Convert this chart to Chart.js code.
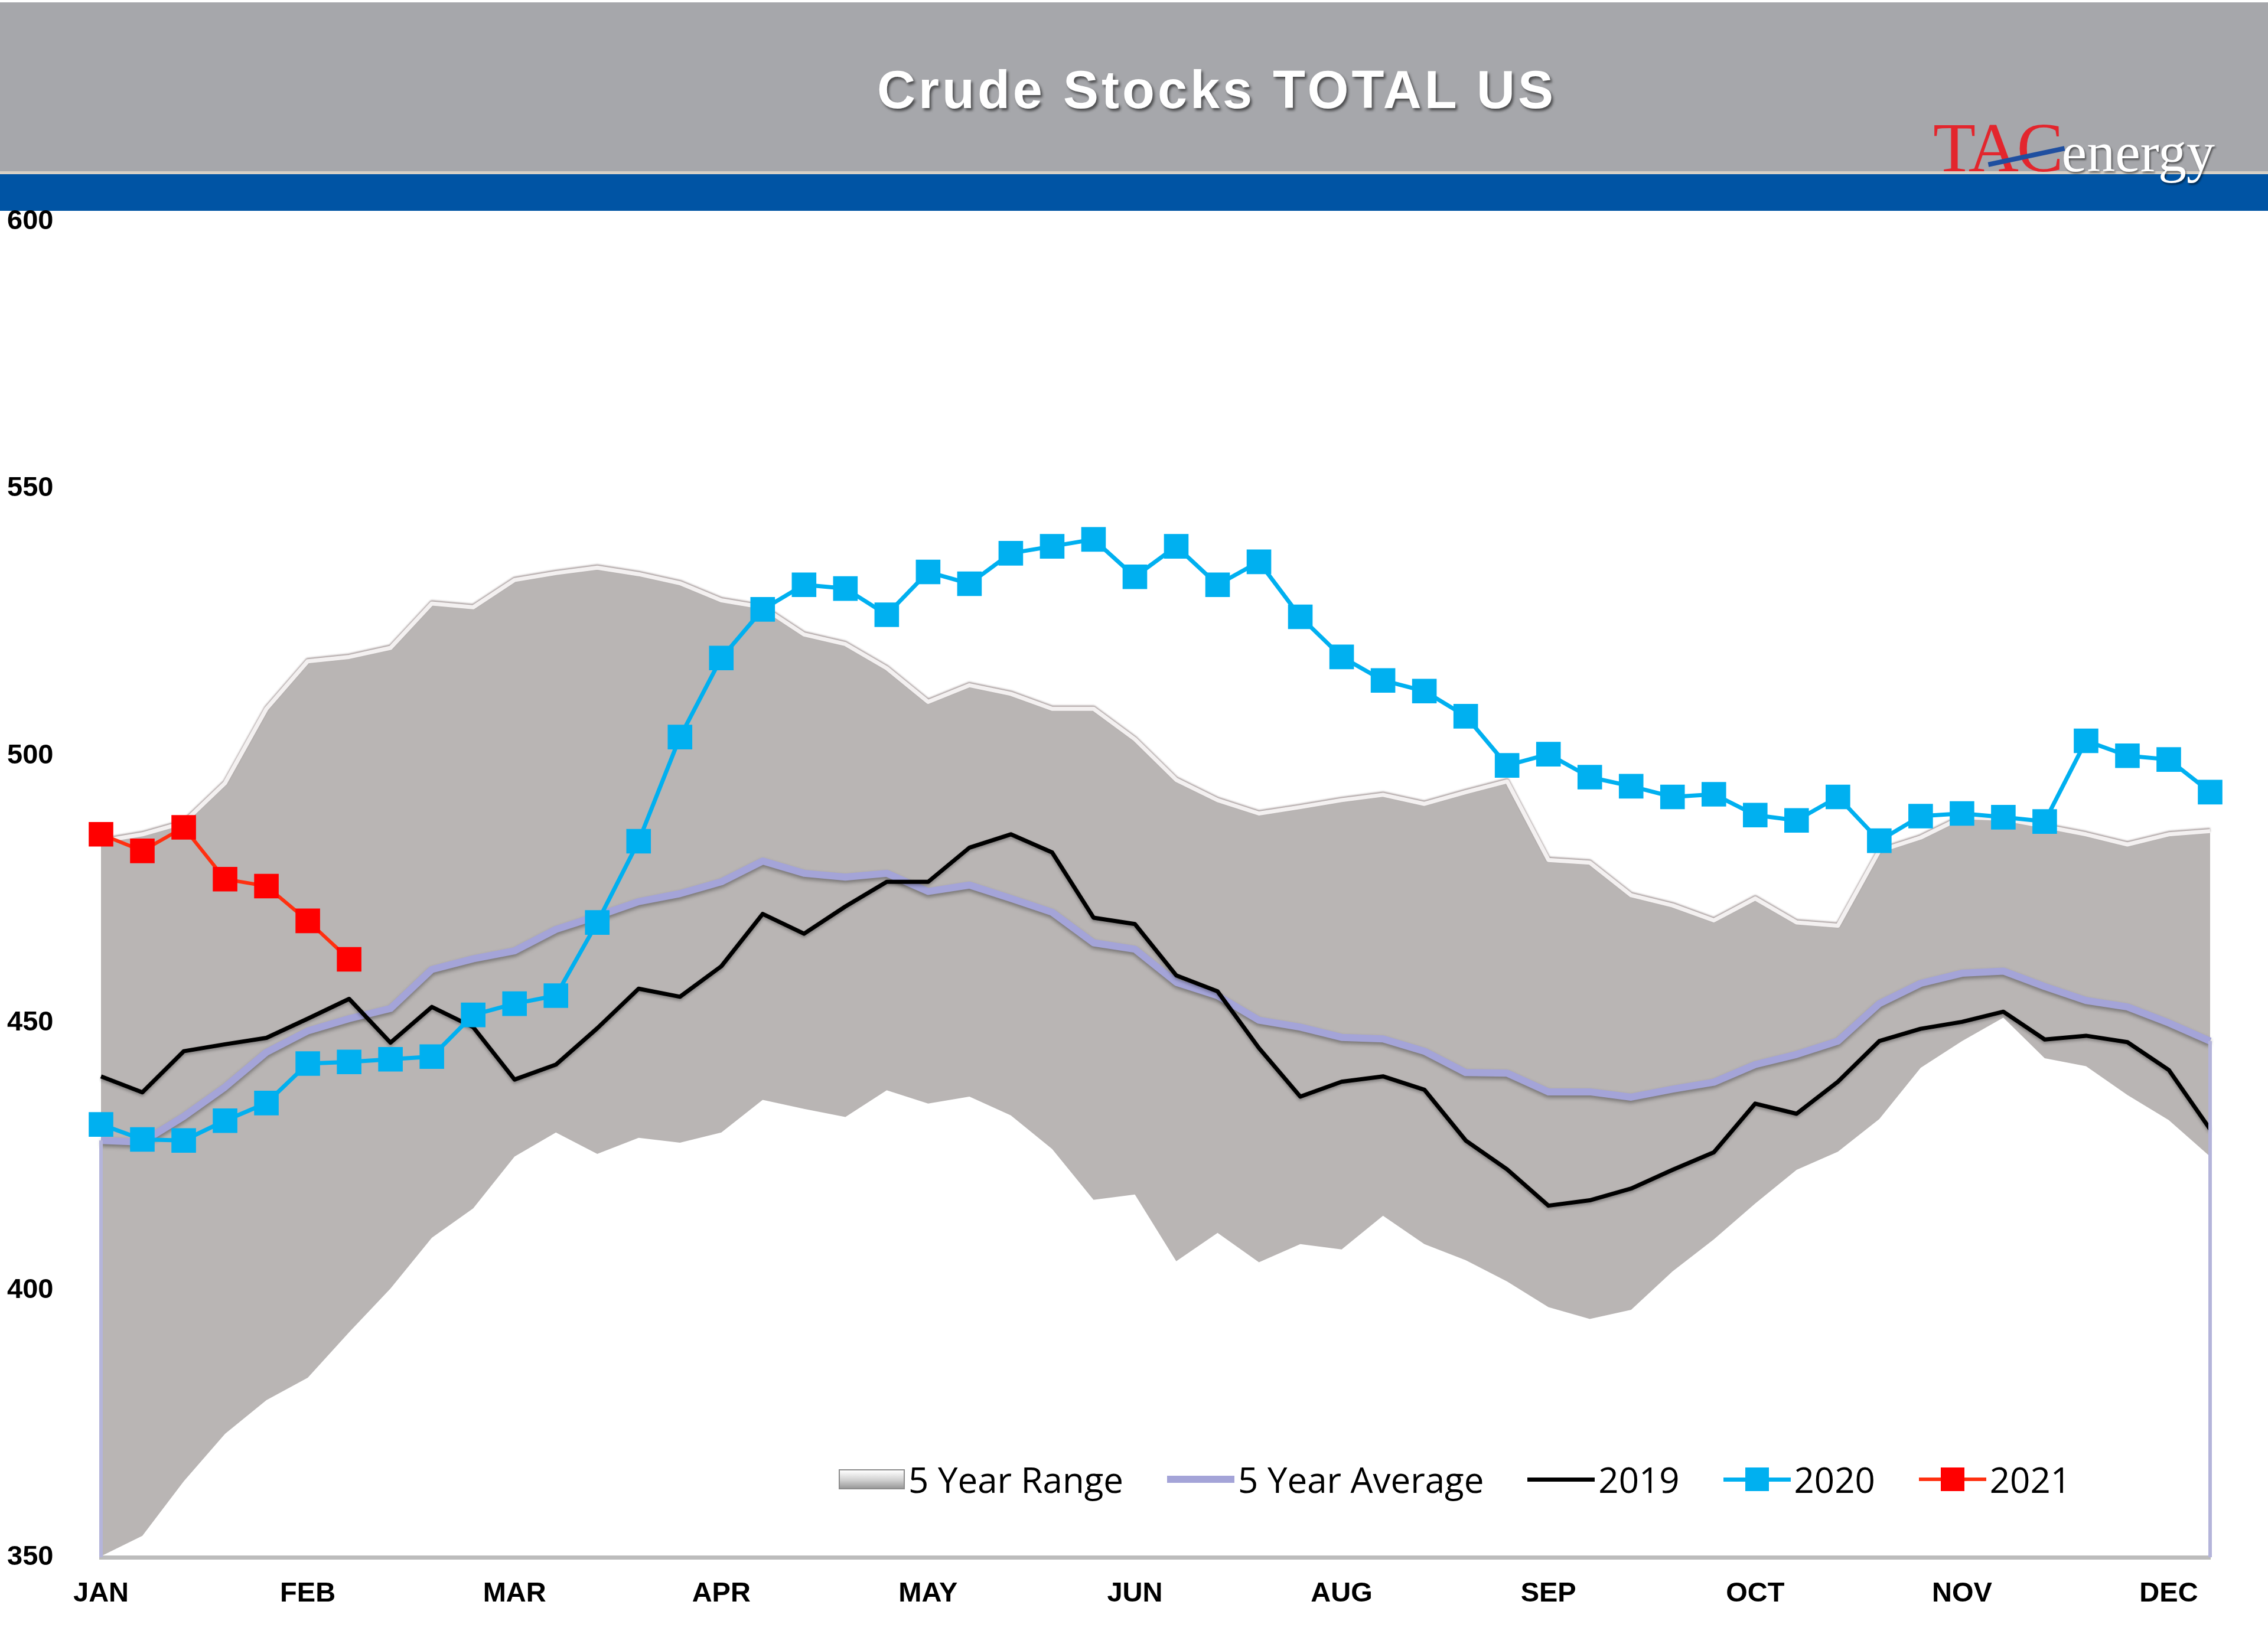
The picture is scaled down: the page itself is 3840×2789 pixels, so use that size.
<!DOCTYPE html>
<html>
<head>
<meta charset="utf-8">
<script src="https://cdn.jsdelivr.net/npm/chart.js@4.4.1/dist/chart.umd.min.js"></script>
<style>
  html, body { margin: 0; padding: 0; background: #fff; }
  #page { position: relative; width: 3840px; height: 2789px; overflow: hidden; background: #fff; }
  #header { position: absolute; left: 0; top: 4px; width: 3840px; height: 286px; background: #a6a7ab; z-index: 1; }
  #bar { position: absolute; left: 0; top: 290px; width: 3840px; height: 62px; background: #0054a4; border-top: 5px solid #d6d0c6; z-index: 1; }
  #title {
    position: absolute; left: 2060px; top: 107px; transform: translateX(-50%);
    font-family: "Liberation Sans", Arial, sans-serif; font-weight: bold; font-size: 90px;
    letter-spacing: 5px; color: #fff; white-space: nowrap; line-height: 1;
    text-shadow: 3px 4px 4px rgba(0, 0, 0, 0.55); z-index: 3;
  }
  #logo { position: absolute; left: 3273px; top: 192px; white-space: nowrap; line-height: 1; font-family: "Liberation Serif", serif; z-index: 3; }
  #logo .tac { font-size: 118px; color: #e3262d; letter-spacing: -3px; }
  #logo .energy { font-size: 96px; color: #fff; text-shadow: 2px 3px 3px rgba(0, 0, 0, 0.5); }
  #slash { position: absolute; left: 3365px; top: 261px; width: 132px; height: 8px; background: #1f4fa0; transform: rotate(-12deg); z-index: 4; }
  #chartBox { position: absolute; left: 0; top: 0; width: 3840px; height: 2789px; z-index: 2; }
  #legend {
    position: absolute; left: 1420px; top: 2475px; height: 60px; display: flex; align-items: center;
    font-family: "Open Sans", sans-serif; font-size: 60px; color: #000; z-index: 3; white-space: nowrap;
  }
  .legendItem { display: flex; align-items: center; margin-right: 74px; }
  .legendText { margin-left: 6px; }
  .swatchRange { width: 108px; height: 30px; border: 2px solid #8c8c8c; background: linear-gradient(#ffffff, #d0d0d0 55%, #9a9a9a); }
  .swatchLine { position: relative; width: 114px; }
  .swatchMark { position: absolute; left: 37px; width: 40px; height: 40px; }
</style>
</head>
<body>
<div id="page">
  <div id="header"></div>
  <div id="bar"></div>
  <div id="title">Crude Stocks TOTAL US</div>
  <div id="logo"><span class="tac">TAC</span><span class="energy">energy</span></div>
  <div id="slash"></div>
  <div id="chartBox"><canvas id="myChart" width="3840" height="2789"></canvas></div>
  <div id="legend"></div>
</div>
<script>
const weeks = [1, 2, 3, 4, 5, 6, 7, 8, 9, 10, 11, 12, 13, 14, 15, 16, 17, 18, 19, 20, 21, 22, 23, 24, 25, 26,
  27, 28, 29, 30, 31, 32, 33, 34, 35, 36, 37, 38, 39, 40, 41, 42, 43, 44, 45, 46, 47, 48, 49, 50, 51, 52];
const monthLabels = ["JAN", "FEB", "MAR", "APR", "MAY", "JUN", "AUG", "SEP", "OCT", "NOV", "DEC"];
const monthWeeks = [1, 6, 11, 16, 21, 26, 31, 36, 41, 46, 51];
const yTicks = [350, 400, 450, 500, 550, 600];

const rangeLow = [350.2, 354, 364.2, 373.1, 379.4, 383.6, 392.1, 400.3, 409.8, 415.3,
  425, 429.5, 425.5, 428.5, 427.6, 429.5, 435.6, 433.9, 432.4, 437.4,
  434.9, 436.2, 432.7, 426.4, 416.9, 417.9, 405.4, 410.7, 405.2, 408.6,
  407.6, 413.9, 408.6, 405.6, 401.6, 396.8, 394.6, 396.3, 403.5, 409.5,
  416.2, 422.5, 425.9, 432, 441.6, 446.6, 451, 443.4, 441.9, 436.5,
  431.8, 425];
const rangeHigh = [484, 485.3, 487.5, 494.9, 508.8, 517.7, 518.5, 520.2, 528.5, 527.8,
  532.9, 534.2, 535.2, 534, 532.3, 529.1, 527.8, 522.7, 520.9, 516.4,
  510.1, 513.2, 511.6, 508.8, 508.8, 503.1, 495.5, 491.7, 489.2, 490.4,
  491.7, 492.7, 491, 493.2, 495.2, 480.5, 480, 473.9, 472, 469.2,
  473.3, 468.8, 468.2, 482.2, 484.7, 488.5, 488.2, 486.8, 485.3, 483.4,
  485.3, 485.9];
const avg5 = [428, 427.7, 432.5, 438, 444.5, 448.5, 450.8, 452.7, 460, 462,
  463.5, 467.5, 470, 472.7, 474.2, 476.4, 480.3, 478, 477.3, 478,
  474.6, 475.8, 473.3, 470.7, 465, 463.8, 457.6, 455.1, 450.5, 449.2,
  447.3, 447, 444.7, 440.7, 440.6, 437.1, 437.1, 436.1, 437.6, 438.9,
  442.2, 444.1, 446.6, 453.6, 457.4, 459.3, 459.7, 456.8, 454.2, 453,
  450, 446.6];
const stocks2019 = [440, 437, 444.7, 446, 447.2, 450.8, 454.5, 446.3, 453, 449.2,
  439.4, 442.2, 449, 456.4, 454.9, 460.6, 470.4, 466.7, 471.8, 476.4,
  476.4, 482.8, 485.3, 481.9, 469.7, 468.5, 458.9, 455.9, 445.3, 436.2,
  439, 440, 437.5, 428, 422.6, 415.8, 416.8, 419, 422.5, 425.8,
  434.9, 433, 439, 446.6, 448.9, 450.2, 452.1, 446.9, 447.6, 446.4,
  441.2, 430.1];
const stocks2020 = [431, 428.2, 428, 431.7, 435, 442.4, 442.7, 443.2, 443.7, 451.5,
  453.6, 455.1, 468.8, 484, 503.5, 518.3, 527.4, 532, 531.3, 526.4,
  534.4, 532.2, 537.9, 539.2, 540.5, 533.5, 539.2, 532, 536.3, 526,
  518.5, 514.1, 512.1, 507.4, 498.2, 500.3, 496, 494.3, 492.3, 492.8,
  488.9, 487.9, 492.3, 484.1, 488.7, 489.2, 488.5, 487.7, 502.8, 500,
  499.3, 493.2];
const stocks2021 = [485.3, 482.2, 486.6, 476.9, 475.6, 469.1, 461.9];

const tickFont = { family: "Liberation Sans", size: 47, weight: "bold" };

// soft Excel-style shadows on some of the series
const lineShadows = {
  id: "lineShadows",
  beforeDatasetDraw(chart, args) {
    let shadow = chart.data.datasets[args.index].shadow;
    if (!shadow) return;
    let ctx = chart.ctx;
    ctx.save();
    ctx.shadowColor = shadow.color;
    ctx.shadowBlur = shadow.blur;
    ctx.shadowOffsetX = 0;
    ctx.shadowOffsetY = shadow.offsetY;
  },
  afterDatasetDraw(chart, args) {
    if (chart.data.datasets[args.index].shadow) chart.ctx.restore();
  },
};

// Excel draws the 5 year average down to the axis at both ends
const avgDropLines = {
  id: "avgDropLines",
  afterDatasetsDraw(chart) {
    let meta = chart.getDatasetMeta(2);
    let ends = [meta.data[0], meta.data[meta.data.length - 1]];
    let ctx = chart.ctx;
    ctx.save();
    ctx.strokeStyle = "#b4b4da";
    ctx.lineWidth = 6;
    for (let i = 0; i < ends.length; i++) {
      ctx.beginPath();
      ctx.moveTo(ends[i].x, ends[i].y);
      ctx.lineTo(ends[i].x, chart.chartArea.bottom);
      ctx.stroke();
    }
    ctx.restore();
  },
};

function monthTick(value, index) {
  let pos = monthWeeks.indexOf(weeks[index]);
  return pos >= 0 ? monthLabels[pos] : "";
}

function loadChart() {
  const ctx = document.getElementById("myChart");

  return new Chart(ctx, {
    type: "line",
    data: {
      labels: weeks,
      datasets: [
        {
          label: "range low",
          data: rangeLow,
          borderWidth: 0,
          pointRadius: 0,
          fill: false,
          order: 6,
        },
        {
          label: "5 Year Range",
          data: rangeHigh,
          borderColor: "#f3f0f0",
          borderWidth: 7,
          backgroundColor: "#b9b5b4",
          pointRadius: 0,
          fill: "-1",
          order: 5,
          shadow: { color: "rgba(90,70,70,0.55)", blur: 3, offsetY: -2 },
        },
        {
          label: "5 Year Average",
          data: avg5,
          borderColor: "#a4a4d8",
          borderWidth: 12,
          pointRadius: 0,
          fill: false,
          order: 4,
          shadow: { color: "rgba(0,0,0,0.35)", blur: 6, offsetY: 4 },
        },
        {
          label: "2019",
          data: stocks2019,
          borderColor: "#000000",
          borderWidth: 7,
          pointRadius: 0,
          fill: false,
          order: 3,
          shadow: { color: "rgba(0,0,0,0.3)", blur: 5, offsetY: 3 },
        },
        {
          label: "2020",
          data: stocks2020,
          borderColor: "#00b0f0",
          backgroundColor: "#00b0f0",
          borderWidth: 7,
          pointStyle: "rect",
          pointRadius: 28,
          pointBorderWidth: 2,
          fill: false,
          order: 2,
        },
        {
          label: "2021",
          data: stocks2021,
          borderColor: "#ff3010",
          backgroundColor: "#ff0000",
          pointBorderColor: "#ff0000",
          borderWidth: 6,
          pointStyle: "rect",
          pointRadius: 28,
          pointBorderWidth: 2,
          fill: false,
          order: 1,
        },
      ],
    },
    options: {
      responsive: false,
      animation: false,
      elements: { line: { tension: 0, borderJoinStyle: "round" } },
      layout: { padding: { left: 12, right: 98, top: 375, bottom: 0 } },
      plugins: {
        legend: { display: false },
        tooltip: { enabled: false },
      },
      scales: {
        x: {
          offset: false,
          grid: { display: false, drawTicks: false },
          border: { display: true, color: "#bcbcbc", width: 7 },
          ticks: {
            autoSkip: false,
            maxRotation: 0,
            minRotation: 0,
            padding: 34,
            color: "#000",
            font: tickFont,
            callback: monthTick,
          },
          afterFit: function (scale) {
            scale.height = 152;
          },
        },
        y: {
          min: yTicks[0],
          max: yTicks[yTicks.length - 1],
          grid: { display: false, drawTicks: false },
          border: { display: false },
          ticks: {
            stepSize: yTicks[1] - yTicks[0],
            crossAlign: "far",
            padding: 0,
            color: "#000",
            font: tickFont,
          },
          afterFit: function (scale) {
            scale.width = 159;
          },
        },
      },
    },
    plugins: [lineShadows, avgDropLines],
  });
}

function legendSymbol(ds) {
  if (ds.fill === "-1") {
    return `<div class="swatchRange"></div>`;
  }
  let mark = "";
  if (ds.pointRadius > 0) {
    mark = `<div class="swatchMark" style="background:${ds.backgroundColor}; top:${-20 + ds.borderWidth / 2}px"></div>`;
  }
  return `<div class="swatchLine" style="height:${ds.borderWidth}px; background:${ds.borderColor}">${mark}</div>`;
}

function loadLegend(chart) {
  let legend = document.getElementById("legend");
  legend.innerHTML = "";
  let datasets = chart.data.datasets;
  for (let i = 1; i < datasets.length; i++) {
    legend.innerHTML += `<div class="legendItem">${legendSymbol(datasets[i])}<span class="legendText">${datasets[i].label}</span></div>`;
  }
}

let chart = loadChart();
loadLegend(chart);
</script>
</body>
</html>
